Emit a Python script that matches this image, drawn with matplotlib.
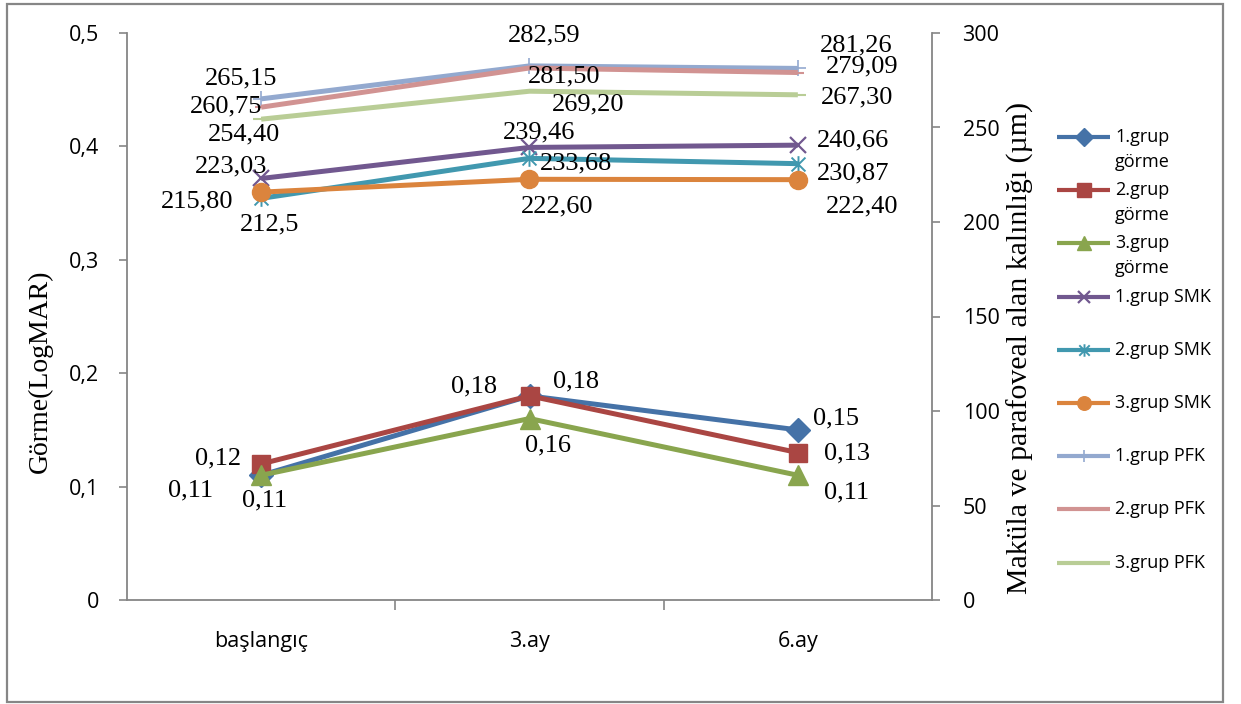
import matplotlib
matplotlib.use("Agg")
import matplotlib.pyplot as plt
from matplotlib.lines import Line2D
from matplotlib.path import Path
from matplotlib.patches import Rectangle

# ---- data -------------------------------------------------------------
periods = ["başlangıç", "3.ay", "6.ay"]

# visual acuity (LogMAR), left axis
gorme_1 = ["0,11", "0,18", "0,15"]
gorme_2 = ["0,12", "0,18", "0,13"]
gorme_3 = ["0,11", "0,16", "0,11"]

# central macular thickness (µm), right axis
smk_1 = ["223,03", "239,46", "240,66"]
smk_2 = ["212,5", "233,68", "230,87"]
smk_3 = ["215,80", "222,60", "222,40"]

# parafoveal thickness (µm), right axis
pfk_1 = ["265,15", "282,59", "281,26"]
pfk_2 = ["260,75", "281,50", "279,09"]
pfk_3 = ["254,40", "269,20", "267,30"]

left_ticks = [0, 0.1, 0.2, 0.3, 0.4, 0.5]
right_ticks = [0, 50, 100, 150, 200, 250, 300]


def to_num(labels):
    return [float(s.replace(",", ".")) for s in labels]


# ---- styling ----------------------------------------------------------
W, H = 1241, 704
SANS = ["Open Sans", "DejaVu Sans"]
SERIF = ["Liberation Serif", "DejaVu Serif"]
GREY = "#868686"

star = Path([(-1, -1), (1, 1), (-1, 1), (1, -1), (0, -1.2), (0, 1.2)],
            [Path.MOVETO, Path.LINETO, Path.MOVETO, Path.LINETO,
             Path.MOVETO, Path.LINETO])

# name, labels, axis, colour, marker kwargs, label offsets (px) per point
series = [
    ("1.grup\ngörme", gorme_1, "L", "#4572A7",
     dict(marker="D", ms=12), [(-71, -15), (-55, 9), (38, 11)]),
    ("2.grup\ngörme", gorme_2, "L", "#AA4643",
     dict(marker="s", ms=13.5), [(-43, 5), (47, 14), (49, -1)]),
    ("3.grup\ngörme", gorme_3, "L", "#89A54E",
     dict(marker="^", ms=14), [(3, -25), (18, -27), (49, -17)]),
    ("1.grup SMK", smk_1, "R", "#71588F",
     dict(marker="x", ms=12, mew=1.6), [(-30, 12), (10, 15), (55, 5)]),
    ("2.grup SMK", smk_2, "R", "#4198AF",
     dict(marker=star, ms=12, mew=1.4), [(8, -26), (47, -5), (55, -10)]),
    ("3.grup SMK", smk_3, "R", "#DB843D",
     dict(marker="o", ms=13), [(-64, -9), (28, -27), (64, -27)]),
    ("1.grup PFK", pfk_1, "R", "#93A9CF",
     dict(marker="+", ms=11, mew=1.2), [(-20, 20), (15, 30), (58, 23)]),
    ("2.grup PFK", pfk_2, "R", "#D19392",
     dict(marker="_", ms=8, mew=1.5), [(-35, 1), (35, -8), (64, 6)]),
    ("3.grup PFK", pfk_3, "R", "#B9CD96",
     dict(marker="_", ms=12, mew=1.5), [(-17, -15), (59, -13), (59, -3)]),
]

# ---- figure -----------------------------------------------------------
fig = plt.figure(figsize=(W / 100, H / 100), dpi=100)
fig.patch.set_facecolor("white")

ax = fig.add_axes([127 / W, (H - 600) / H, (932 - 127) / W, (600 - 33) / H])
ax2 = ax.twinx()

x = list(range(len(periods)))
LW = 3.6

for name, labels, side, color, mk, offsets in series:
    target = ax if side == "L" else ax2
    vals = to_num(labels)
    target.plot(x, vals, color=color, lw=LW, mfc=color, mec=color,
                solid_capstyle="butt", clip_on=False, zorder=3, **mk)
    for xi, v, lab, (dx, dy) in zip(x, vals, labels, offsets):
        target.annotate(lab, (xi, v), xytext=(dx, dy),
                        textcoords="offset pixels", ha="center",
                        va="center", fontsize=19, family=SERIF,
                        color="black", zorder=5)

# left axis
ax.set_xlim(-0.5, 2.5)
ax.set_ylim(0, 0.5)
ax.set_yticks(left_ticks)
ax.set_yticklabels([("%g" % t).replace(".", ",") for t in left_ticks],
                   family=SANS, fontsize=15.5)
ax.tick_params(axis="y", direction="out", length=6, width=1.2,
               color=GREY, pad=14)

# category axis: ticks between categories, labels at category centres
ax.set_xticks([0.5, 1.5])
ax.set_xticklabels([])
ax.set_xticks(x, minor=True)
ax.set_xticklabels(periods, minor=True, family=SANS, fontsize=15.5)
ax.tick_params(axis="x", which="major", direction="out", length=7,
               width=1.2, color=GREY)
ax.tick_params(axis="x", which="minor", length=0, pad=22)

# right axis
ax2.set_ylim(0, 300)
ax2.set_yticks(right_ticks)
ax2.set_yticklabels([str(t) for t in right_ticks], family=SANS,
                    fontsize=15.5)
ax2.tick_params(axis="y", direction="out", length=6, width=1.2,
                color=GREY, pad=16)

for a in (ax, ax2):
    a.spines["top"].set_visible(False)
    for side in ("left", "right", "bottom"):
        a.spines[side].set_color(GREY)
        a.spines[side].set_linewidth(1.3)
ax.spines["right"].set_visible(False)
ax2.spines["left"].set_visible(False)
ax2.spines["bottom"].set_visible(False)

# axis titles
fig.text(40 / W, 1 - 371 / H, "Görme(LogMAR)", rotation=90, ha="center",
         va="center", family=SERIF, fontsize=20)
fig.text(1020 / W, 1 - 348 / H, "Maküla ve parafoveal alan kalınlığı (µm)",
         rotation=90, ha="center", va="center", family=SERIF, fontsize=21.5)


# legend, one entry per series at a fixed pitch
def fx(px):
    return px / W


def fy(py):
    return 1 - py / H


for i, (name, labels, side, color, mk, offsets) in enumerate(series):
    y0 = 137 + i * 53.2
    fig.add_artist(Line2D([fx(1057), fx(1110)], [fy(y0), fy(y0)],
                          transform=fig.transFigure, color=color, lw=3.0,
                          solid_capstyle="butt"))
    lmk = dict(mk)
    lmk["ms"] = lmk["ms"] * 0.75
    fig.add_artist(Line2D([fx(1083.5)], [fy(y0)], transform=fig.transFigure,
                          color=color, mfc=color, mec=color, ls="none",
                          **lmk))
    for k, line in enumerate(name.split("\n")):
        fig.text(fx(1115), fy(y0 + 25 * k), line, ha="left", va="center",
                 family=SANS, fontsize=13)

# chart frame
fig.add_artist(Rectangle((fx(7), fy(702)), fx(1223) - fx(7),
                         fy(4) - fy(702), transform=fig.transFigure,
                         fill=False, edgecolor=GREY, lw=1.6))

fig.savefig("out.png", dpi=100, facecolor="white")
